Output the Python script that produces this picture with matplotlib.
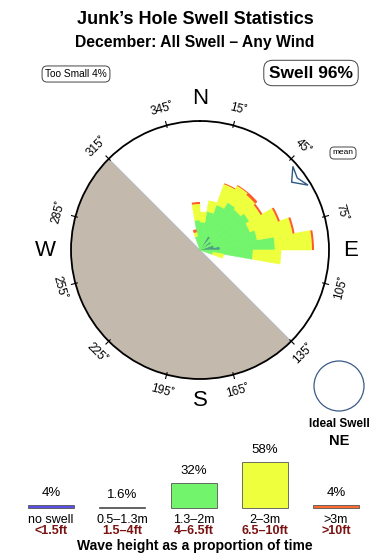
#!/usr/bin/env python3
"""Swell rose for Junk's Hole, December, all swell / any wind."""

import matplotlib
matplotlib.use('Agg')
import matplotlib.pyplot as plt
from matplotlib.patches import Circle
import numpy as np

plt.rcParams['font.family'] = ['Liberation Sans', 'DejaVu Sans']

# --- Data -------------------------------------------------------------
# direction bins (centre, degrees true), 10 degree wide
bin_dirs = [345, 355, 5, 15, 25, 35, 45, 55, 65, 75, 85, 95, 105]
# stacked segment lengths per bin (rose radial units, outer ring = 129)
seg_small = [0, 0, 0, 0, 0, 16, 0, 13, 0, 14, 20, 0, 0]        # 0.5-1.3m
seg_mid = [14, 30, 28, 39, 48, 39, 53, 44, 53, 44, 55, 53, 13]   # 1.3-2m
seg_big = [4, 16, 10, 11, 22, 19, 19, 13, 30, 36, 37, 28, 11]    # 2-3m
seg_huge = [3, 2, 0, 0, 1, 1, 3, 2, 2, 2, 2, 0, 0]               # >3m
rose_rmax = 129

# land sector (no swell can arrive from here)
land_from, land_to = 135, 315

# mean direction
mean_dir = 53.5

compass_ticks = [15, 45, 75, 105, 135, 165, 195, 225, 255, 285, 315, 345]
cardinals = ['N', 'E', 'S', 'W']

# wave height legend
size_labels = ['no swell', '0.5\u20131.3m', '1.3\u20132m', '2\u20133m', '>3m']
size_ft = ['<1.5ft', '1.5\u20134ft', '4\u20136.5ft', '6.5\u201310ft', '>10ft']
size_pct = [4, 1.6, 32, 58, 4]
size_pct_text = ['4%', '1.6%', '32%', '58%', '4%']

too_small_pct = 4
swell_pct = 96
ideal_dir = 'NE'

# colours
c_small = '#4e9e80'
c_mid = '#72f56c'
c_big = '#eeff3e'
c_huge = '#ff5a28'
c_land = '#c4b9ad'
legend_colors = ['#5a50e6', '#6a8878', c_mid, c_big, '#ff6a30']
ft_color = '#7a1212'

# --- Figure -----------------------------------------------------------
W, H = 390, 560
fig = plt.figure(figsize=(W / 100, H / 100), dpi=100)

fig.text(0.5, 1 - 19 / H, 'Junk\u2019s Hole Swell Statistics', ha='center', va='center',
         fontsize=13, fontweight='bold')
fig.text(0.5, 1 - 42 / H, 'December: All Swell \u2013 Any Wind', ha='center', va='center',
         fontsize=11.3, fontweight='bold')

box = dict(boxstyle='round,pad=0.3,rounding_size=0.5', fc='white', ec='#444444', lw=0.7)
fig.text(76 / W, 1 - 74 / H, f'Too Small {too_small_pct}%', ha='center', va='center',
         fontsize=7.3, bbox=box)
fig.text(311 / W, 1 - 73 / H, f'Swell {swell_pct}%', ha='center', va='center',
         fontsize=12.5, fontweight='bold', bbox=dict(box, pad=0.22))
fig.text(343 / W, 1 - 153 / H, 'mean', ha='center', va='center', fontsize=6, bbox=box)

# --- Rose -------------------------------------------------------------
cx, cy, rpx = 200, 250, 129
ax = fig.add_axes([(cx - rpx) / W, (H - cy - rpx) / H, 2 * rpx / W, 2 * rpx / H],
                  projection='polar')
ax.set_theta_zero_location('N')
ax.set_theta_direction(-1)
ax.set_ylim(0, rose_rmax)
ax.set_yticks([])
ax.set_xticks([])
ax.grid(False)
ax.spines['polar'].set_linewidth(1.3)

# land half
land_width = np.deg2rad(land_to - land_from)
ax.bar(np.deg2rad((land_from + land_to) / 2), rose_rmax, width=land_width,
       color=c_land, edgecolor='#b4c0cc', linewidth=0.6, zorder=1)

theta = np.deg2rad(bin_dirs)
width = np.deg2rad(10)
bottom = np.zeros(len(bin_dirs))
layers = [(seg_small, c_small, 0.4), (seg_mid, c_mid, 0.4),
          (seg_big, c_big, 0.4), (seg_huge, c_huge, 0.0)]
for seg, col, lw in layers:
    seg = np.array(seg, dtype=float)
    ax.bar(theta, seg, width=width, bottom=bottom, color=col, edgecolor=col,
           linewidth=np.where(seg > 0, lw, 0.0), zorder=2)
    bottom += seg

# mean direction arrow (notched arrowhead pointing inward)
m = mean_dir
arrow_t = np.deg2rad([m, m + 5.5, m, m - 5.5, m])
arrow_r = [114, 126, 121, 125, 114]
ax.fill(arrow_t, arrow_r, facecolor='white', edgecolor='#2d5a85', linewidth=1.0, zorder=3)

# compass ticks and labels
for d in compass_ticks:
    t = np.deg2rad(d)
    ax.plot([t, t], [rose_rmax - 2, rose_rmax + 4], color='black', lw=0.8, clip_on=False)
    rot = -d
    if 90 < d < 270:
        rot += 180
    ax.text(t, 146, f'{d}\u02da', ha='center', va='center',
            rotation=rot, rotation_mode='anchor', fontsize=8.5)
for i, lab in enumerate(cardinals):
    ax.text(np.deg2rad(90 * i), 151 if lab != 'W' else 155, lab,
            ha='center', va='center', fontsize=16)

# --- Ideal swell ------------------------------------------------------
ix, iy, ir = 339, 386, 25
ax3 = fig.add_axes([(ix - ir - 2) / W, (H - iy - ir - 2) / H, (2 * ir + 4) / W, (2 * ir + 4) / H])
ax3.set_xlim(-1.08, 1.08)
ax3.set_ylim(-1.08, 1.08)
ax3.add_patch(Circle((0, 0), 1, fc='white', ec='#3a5a88', lw=0.9))
ax3.axis('off')
fig.text(ix / W, 1 - 424 / H, 'Ideal Swell', ha='center', va='center',
         fontsize=8.5, fontweight='bold')
fig.text(ix / W, 1 - 441 / H, ideal_dir, ha='center', va='center',
         fontsize=10.5, fontweight='bold')

# --- Wave height legend -----------------------------------------------
top_px, base_px = 440, 508
px_per_pct = 0.793
x0, dx = 51, 71.25
ax2 = fig.add_axes([0, 0, 1, (H - top_px) / H])
ax2.set_xlim(-x0 / dx, (W - x0) / dx)
ax2.set_ylim(-(H - base_px) / px_per_pct, (base_px - top_px) / px_per_pct)
ax2.axis('off')

xs = np.arange(len(size_pct))
ax2.bar(xs, size_pct, width=46 / dx, color=legend_colors, edgecolor='#555555', linewidth=0.6)
for x, p, t, lab, ft in zip(xs, size_pct, size_pct_text, size_labels, size_ft):
    ax2.annotate(t, (x, p), xytext=(0, 4), textcoords='offset points',
                 ha='center', va='bottom', fontsize=9.5)
    ax2.annotate(lab, (x, 0), xytext=(0, -8.5), textcoords='offset points',
                 ha='center', va='center', fontsize=9)
    ax2.annotate(ft, (x, 0), xytext=(0, -16.5), textcoords='offset points',
                 ha='center', va='center', fontsize=9, fontweight='bold', color=ft_color)

fig.text(0.5, 1 - 546 / H, 'Wave height as a proportion of time', ha='center', va='center',
         fontsize=10, fontweight='bold')

fig.savefig('out.png', dpi=100)
